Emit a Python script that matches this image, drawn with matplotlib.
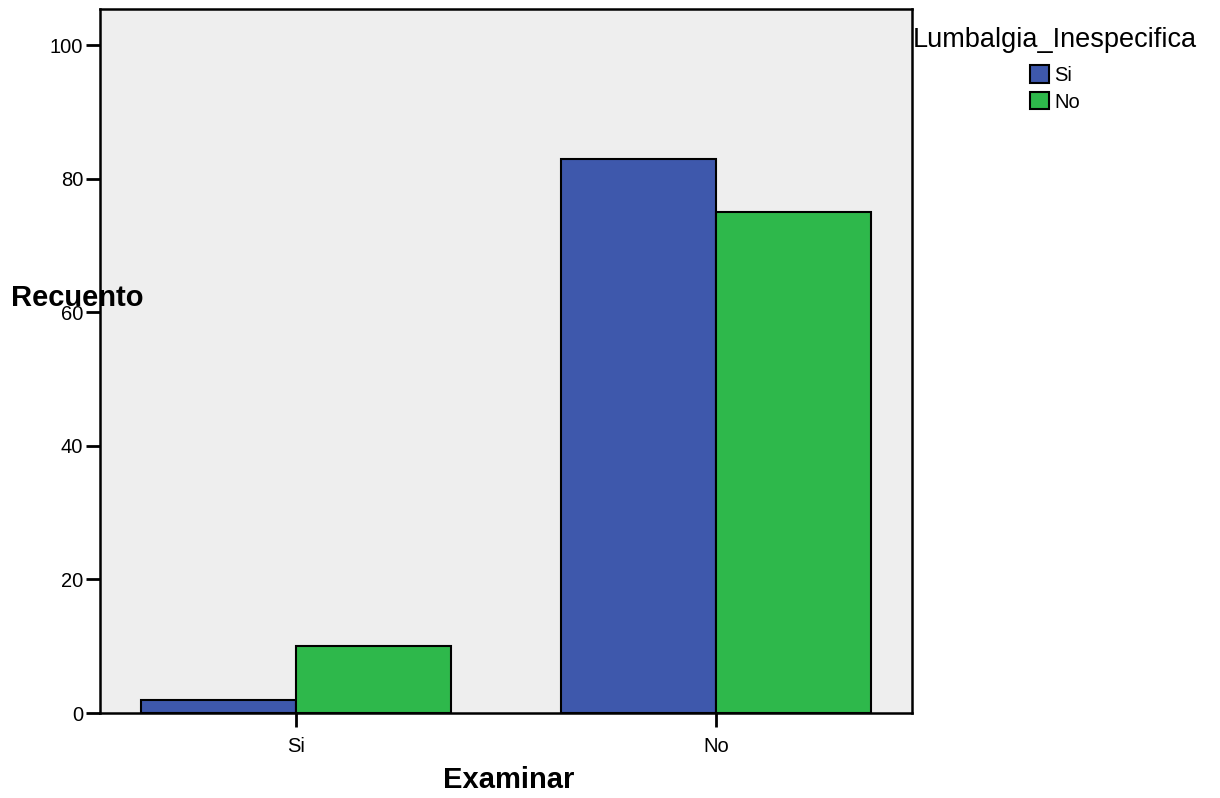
import matplotlib
matplotlib.use('Agg')
from matplotlib import pyplot as plt
import numpy as np

plt.rcParams['font.family'] = ['Liberation Sans', 'DejaVu Sans']

#data
categories = ['Si', 'No']
series_names = ['Si', 'No']
values_si = [2, 83]
values_no = [10, 75]
colors = ['#3e58ac', '#2eb84b']

fig = plt.figure(figsize=(12.2, 7.98), dpi=100)
ax = fig.add_axes((0.082, 0.1065, 0.6655, 0.8822))
ax.set_facecolor('#eeeeee')

x = np.arange(len(categories))
w = 0.369
ax.bar(x - w/2, values_si, w, color=colors[0], edgecolor='black', linewidth=1.5, label=series_names[0])
ax.bar(x + w/2, values_no, w, color=colors[1], edgecolor='black', linewidth=1.5, label=series_names[1])

ax.set_xlim(-0.467, 1.467)
ax.set_ylim(0, 105.4)
ax.set_xticks(x)
ax.set_xticklabels(categories)
ax.set_yticks([0, 20, 40, 60, 80, 100])
ax.tick_params(axis='both', length=10, width=2, labelsize=14.5, pad=2, direction='out')
ax.tick_params(axis='x', pad=7)
for s in ax.spines.values():
    s.set_linewidth(1.8)

fig.text(0.063, 0.6266, 'Recuento', fontsize=21, fontweight='bold', ha='center', va='center')
fig.text(0.417, 0.0226, 'Examinar', fontsize=21, fontweight='bold', ha='center', va='center')

leg = fig.legend(loc='upper center', bbox_to_anchor=(0.865, 0.984), frameon=False, title='Lumbalgia_Inespecifica',
                 title_fontsize=19.5, fontsize=14.5, handlelength=0.95, handleheight=0.95, handletextpad=0.25,
                 labelspacing=0.35, borderpad=0.2)
leg._legend_box.align = 'center'
leg._legend_box.sep = 9

fig.savefig('out.png', dpi=100)
